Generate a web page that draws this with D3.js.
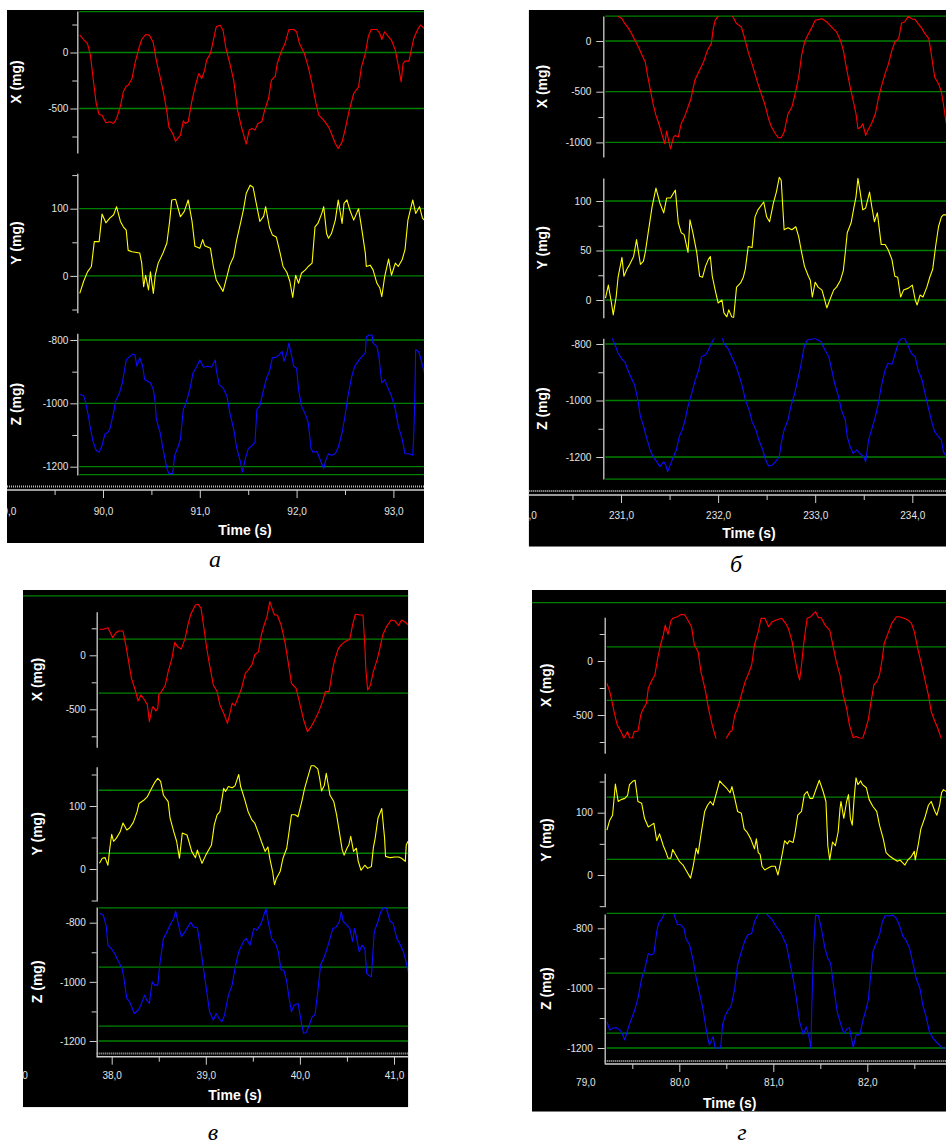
<!DOCTYPE html>
<html><head><meta charset="utf-8">
<script src="https://cdn.jsdelivr.net/npm/d3@7"></script>
<style>body{margin:0;background:#fff}svg{display:block}</style>
</head><body>
<svg id="c" width="946" height="1144"></svg>
<script>
// ---------- panel а ----------
const aTimeMajor = [89, 90, 91, 92, 93];
const aTimeMinor = [89.5, 90.5, 91.5, 92.5];
const aXTicks = [250, 0, -250, -500, -750], aXLabels = [0, -500], aXGrid = [365, 0, -500];
const aYTicks = [150, 100, 50, 0, -50], aYLabels = [100, 0], aYGrid = [100, 0];
const aZTicks = [-800, -900, -1000, -1100, -1200], aZLabels = [-800, -1000, -1200], aZGrid = [-800, -1000, -1200, -1225];
const aX = [[89.76,155],[89.80,116],[89.84,80],[89.87,-24],[89.90,-247],[89.93,-455],[89.96,-554],[89.99,-560],[90.03,-628],[90.07,-619],[90.11,-634],[90.14,-589],[90.18,-479],[90.21,-351],[90.24,-301],[90.26,-292],[90.30,-232],[90.33,-98],[90.37,36],[90.40,116],[90.44,161],[90.48,155],[90.52,86],[90.55,-68],[90.59,-217],[90.63,-381],[90.66,-530],[90.68,-664],[90.72,-723],[90.75,-792],[90.80,-738],[90.83,-610],[90.85,-634],[90.88,-619],[90.92,-426],[90.96,-277],[90.99,-187],[91.02,-232],[91.05,-158],[91.07,-68],[91.11,-9],[91.14,110],[91.17,229],[91.21,244],[91.24,199],[91.27,36],[91.31,-98],[91.35,-247],[91.39,-515],[91.43,-664],[91.48,-818],[91.51,-693],[91.54,-679],[91.57,-693],[91.60,-634],[91.64,-619],[91.67,-515],[91.71,-411],[91.74,-247],[91.78,-211],[91.80,-98],[91.84,6],[91.88,80],[91.92,205],[91.97,205],[92.00,185],[92.03,80],[92.08,-9],[92.12,-128],[92.16,-277],[92.20,-455],[92.23,-560],[92.28,-604],[92.33,-664],[92.36,-723],[92.40,-812],[92.43,-857],[92.47,-798],[92.50,-693],[92.54,-530],[92.59,-366],[92.64,-307],[92.67,-128],[92.71,-9],[92.74,140],[92.77,205],[92.83,205],[92.86,170],[92.88,116],[92.91,185],[92.95,140],[92.98,110],[93.02,21],[93.05,-113],[93.08,-262],[93.10,-98],[93.12,-77],[93.16,-77],[93.21,125],[93.25,205],[93.28,244],[93.32,214]];
const aY = [[89.76,-26],[89.80,-8],[89.84,6],[89.88,14],[89.91,51],[89.96,51],[89.99,92],[90.03,79],[90.07,86],[90.11,91],[90.14,103],[90.18,81],[90.21,73],[90.24,68],[90.26,38],[90.30,36],[90.38,34],[90.40,19],[90.42,-16],[90.44,1],[90.47,-21],[90.49,6],[90.52,-26],[90.54,1],[90.57,19],[90.62,34],[90.66,49],[90.69,83],[90.71,113],[90.75,114],[90.80,88],[90.84,96],[90.88,113],[90.92,81],[90.95,44],[91.00,41],[91.03,54],[91.05,45],[91.11,41],[91.14,14],[91.17,-6],[91.24,-23],[91.28,-1],[91.31,16],[91.35,29],[91.38,53],[91.42,78],[91.45,98],[91.48,123],[91.52,135],[91.55,132],[91.59,103],[91.62,81],[91.66,89],[91.68,103],[91.72,72],[91.75,61],[91.79,58],[91.83,34],[91.86,14],[91.90,5],[91.93,-8],[91.96,-32],[91.99,1],[92.02,-11],[92.05,4],[92.09,9],[92.12,14],[92.16,19],[92.19,73],[92.22,78],[92.26,93],[92.28,103],[92.31,63],[92.33,56],[92.36,63],[92.40,83],[92.43,113],[92.47,78],[92.49,108],[92.52,113],[92.55,98],[92.59,83],[92.64,100],[92.67,73],[92.71,34],[92.72,14],[92.76,16],[92.79,9],[92.83,-11],[92.86,-18],[92.88,-31],[92.91,-1],[92.95,25],[92.98,1],[93.02,19],[93.05,14],[93.09,24],[93.12,39],[93.15,83],[93.20,113],[93.23,93],[93.27,103],[93.30,86],[93.32,83]];
const aZ = [[89.76,-972],[89.80,-975],[89.82,-998],[89.85,-1040],[89.87,-1081],[89.90,-1123],[89.93,-1149],[89.96,-1154],[89.99,-1133],[90.02,-1097],[90.05,-1092],[90.07,-1081],[90.11,-1029],[90.13,-993],[90.17,-967],[90.20,-935],[90.24,-863],[90.27,-854],[90.31,-844],[90.33,-847],[90.35,-883],[90.38,-856],[90.41,-883],[90.43,-925],[90.46,-930],[90.49,-935],[90.52,-956],[90.54,-998],[90.55,-1050],[90.59,-1092],[90.62,-1144],[90.66,-1206],[90.68,-1222],[90.72,-1222],[90.74,-1165],[90.78,-1133],[90.80,-1112],[90.83,-1019],[90.86,-998],[90.90,-951],[90.93,-904],[90.97,-883],[91.00,-863],[91.04,-886],[91.08,-883],[91.12,-886],[91.16,-863],[91.17,-894],[91.20,-941],[91.24,-951],[91.28,-977],[91.31,-1029],[91.35,-1081],[91.38,-1139],[91.42,-1185],[91.44,-1217],[91.47,-1175],[91.50,-1144],[91.54,-1133],[91.57,-1123],[91.59,-1019],[91.62,-1008],[91.66,-956],[91.69,-920],[91.72,-899],[91.75,-856],[91.79,-854],[91.82,-847],[91.85,-836],[91.87,-867],[91.90,-841],[91.92,-810],[91.95,-852],[91.97,-883],[92.00,-889],[92.02,-956],[92.05,-1008],[92.09,-1034],[92.12,-1060],[92.15,-1144],[92.17,-1154],[92.21,-1152],[92.24,-1175],[92.28,-1206],[92.30,-1180],[92.33,-1159],[92.36,-1164],[92.40,-1159],[92.43,-1139],[92.47,-1092],[92.50,-1040],[92.53,-977],[92.57,-915],[92.60,-883],[92.64,-865],[92.67,-854],[92.71,-841],[92.72,-790],[92.75,-784],[92.78,-784],[92.79,-810],[92.83,-821],[92.85,-852],[92.88,-935],[92.91,-925],[92.95,-956],[92.98,-977],[93.02,-1019],[93.05,-1071],[93.09,-1112],[93.12,-1159],[93.16,-1159],[93.20,-1164],[93.21,-1102],[93.22,-998],[93.23,-831],[93.26,-836],[93.28,-856],[93.32,-904]];

// ---------- panel б ----------
const bTimeMajor = [230, 231, 232, 233, 234];
const bTimeMinor = [230.5, 231.5, 232.5, 233.5];
const bXTicks = [0, -250, -500, -750, -1000], bXLabels = [0, -500, -1000], bXGrid = [245, 0, -500, -1000];
const bYTicks = [100, 75, 50, 25, 0], bYLabels = [100, 50, 0], bYGrid = [100, 50, 0];
const bZTicks = [-800, -900, -1000, -1100, -1200], bZLabels = [-800, -1000, -1200], bZGrid = [-800, -1000, -1200, -1278];
const bX = [[230.84,350],[230.94,280],[230.97,243],[231.01,220],[231.04,171],[231.08,122],[231.11,72],[231.14,13],[231.18,-59],[231.21,-125],[231.25,-207],[231.27,-322],[231.30,-470],[231.33,-619],[231.36,-734],[231.39,-816],[231.42,-915],[231.45,-1013],[231.47,-888],[231.49,-980],[231.51,-1063],[231.54,-948],[231.56,-931],[231.59,-948],[231.62,-816],[231.66,-734],[231.69,-651],[231.72,-569],[231.76,-388],[231.80,-306],[231.85,-207],[231.89,-92],[231.93,-26],[231.95,122],[231.97,204],[232.00,243],[232.04,330],[232.09,330],[232.15,243],[232.19,171],[232.24,138],[232.27,39],[232.31,-109],[232.36,-257],[232.41,-421],[232.45,-536],[232.48,-619],[232.52,-767],[232.55,-849],[232.59,-915],[232.62,-954],[232.65,-954],[232.68,-898],[232.72,-717],[232.76,-651],[232.79,-536],[232.83,-355],[232.86,-141],[232.89,-10],[232.93,72],[232.96,122],[233.00,204],[233.03,211],[233.07,220],[233.12,188],[233.17,138],[233.22,89],[233.26,7],[233.29,-92],[233.32,-257],[233.36,-454],[233.39,-586],[233.42,-717],[233.44,-865],[233.47,-849],[233.49,-816],[233.52,-931],[233.55,-865],[233.58,-816],[233.62,-717],[233.65,-569],[233.68,-454],[233.72,-322],[233.75,-240],[233.79,-92],[233.82,-10],[233.86,23],[233.89,178],[233.92,188],[233.96,243],[233.99,220],[234.03,211],[234.06,171],[234.10,122],[234.13,72],[234.17,23],[234.20,-158],[234.23,-355],[234.27,-421],[234.30,-503],[234.32,-619],[234.35,-816]];
const bY = [[230.84,2],[230.87,15],[230.90,-2],[230.92,-15],[230.95,3],[230.97,23],[231.01,43],[231.03,24],[231.06,31],[231.09,36],[231.13,44],[231.16,61],[231.20,36],[231.23,39],[231.25,48],[231.28,68],[231.32,94],[231.36,113],[231.40,98],[231.44,88],[231.47,103],[231.51,103],[231.56,111],[231.59,78],[231.62,68],[231.65,66],[231.69,48],[231.71,81],[231.74,68],[231.78,48],[231.81,24],[231.84,23],[231.87,34],[231.90,41],[231.92,44],[231.94,24],[231.97,10],[232.00,-3],[232.04,0],[232.06,-13],[232.09,-17],[232.11,-10],[232.14,-17],[232.16,-18],[232.19,13],[232.23,17],[232.26,23],[232.28,31],[232.31,54],[232.35,53],[232.38,84],[232.41,91],[232.47,99],[232.50,84],[232.53,79],[232.57,98],[232.60,109],[232.63,124],[232.65,121],[232.68,71],[232.72,73],[232.76,71],[232.80,74],[232.83,64],[232.86,48],[232.89,34],[232.93,24],[232.95,20],[232.97,3],[233.00,18],[233.03,13],[233.07,10],[233.09,3],[233.12,-8],[233.15,0],[233.19,10],[233.22,13],[233.26,20],[233.29,30],[233.31,48],[233.33,68],[233.37,78],[233.40,94],[233.42,104],[233.44,123],[233.46,111],[233.49,91],[233.52,93],[233.56,109],[233.58,96],[233.61,79],[233.64,88],[233.68,56],[233.72,56],[233.75,51],[233.79,41],[233.82,24],[233.85,23],[233.88,3],[233.91,10],[233.96,12],[234.00,15],[234.03,0],[234.05,-5],[234.08,5],[234.11,3],[234.15,13],[234.18,23],[234.21,31],[234.24,54],[234.27,74],[234.30,84],[234.32,86],[234.35,86]];
const bZ = [[230.84,-740],[230.91,-780],[230.94,-804],[230.97,-833],[231.01,-854],[231.04,-863],[231.07,-892],[231.10,-916],[231.14,-945],[231.17,-992],[231.20,-1057],[231.23,-1087],[231.26,-1128],[231.30,-1175],[231.33,-1199],[231.37,-1217],[231.40,-1234],[231.44,-1217],[231.46,-1228],[231.48,-1252],[231.50,-1234],[231.54,-1199],[231.57,-1175],[231.60,-1128],[231.63,-1104],[231.66,-1069],[231.69,-1020],[231.73,-973],[231.76,-933],[231.80,-892],[231.83,-845],[231.87,-839],[231.90,-821],[231.93,-798],[231.96,-780],[232.00,-760],[232.04,-775],[232.06,-798],[232.11,-821],[232.14,-845],[232.18,-874],[232.22,-916],[232.25,-951],[232.28,-998],[232.32,-1034],[232.35,-1075],[232.39,-1104],[232.42,-1140],[232.46,-1175],[232.49,-1211],[232.52,-1232],[232.56,-1228],[232.59,-1217],[232.63,-1199],[232.65,-1152],[232.68,-1104],[232.72,-1069],[232.75,-1020],[232.79,-973],[232.82,-927],[232.85,-880],[232.89,-804],[232.92,-786],[232.96,-783],[232.99,-780],[233.03,-786],[233.06,-792],[233.10,-821],[233.14,-845],[233.17,-892],[233.20,-939],[233.24,-986],[233.27,-1034],[233.31,-1069],[233.33,-1128],[233.36,-1164],[233.39,-1187],[233.43,-1175],[233.46,-1187],[233.50,-1199],[233.52,-1217],[233.55,-1140],[233.58,-1104],[233.62,-1057],[233.65,-1010],[233.68,-951],[233.72,-892],[233.75,-868],[233.79,-872],[233.82,-839],[233.86,-792],[233.89,-780],[233.92,-780],[233.96,-809],[233.99,-833],[234.03,-845],[234.06,-892],[234.10,-927],[234.13,-973],[234.17,-1032],[234.20,-1075],[234.23,-1110],[234.27,-1128],[234.30,-1140],[234.32,-1181],[234.35,-1199]];

// ---------- panel в ----------
const vTimeMajor = [37, 38, 39, 40, 41];
const vTimeMinor = [38.5, 39.5, 40.5];
const vXTicks = [250, 0, -250, -500, -750], vXLabels = [0, -500], vXGrid = [550, 150, -350];
const vYTicks = [150, 100, 50, 0, -50], vYLabels = [100, 0], vYGrid = [125, 25];
const vZTicks = [-800, -900, -1000, -1100, -1200], vZLabels = [-800, -1000, -1200], vZGrid = [-750, -950, -1150, -1200];
const vX = [[37.87,241],[37.91,241],[37.96,256],[38.01,164],[38.04,204],[38.07,225],[38.12,225],[38.15,96],[38.18,-59],[38.21,-213],[38.25,-321],[38.28,-423],[38.31,-367],[38.35,-414],[38.38,-460],[38.40,-614],[38.43,-491],[38.44,-475],[38.47,-515],[38.49,-491],[38.50,-367],[38.53,-336],[38.57,-275],[38.60,-151],[38.64,-28],[38.67,120],[38.70,80],[38.74,59],[38.78,157],[38.81,281],[38.84,380],[38.89,466],[38.92,472],[38.95,435],[38.97,312],[39.01,65],[39.04,-89],[39.08,-275],[39.12,-336],[39.15,-460],[39.19,-537],[39.23,-630],[39.26,-522],[39.28,-444],[39.31,-466],[39.34,-398],[39.38,-306],[39.42,-167],[39.45,-136],[39.49,-89],[39.52,3],[39.56,34],[39.59,188],[39.62,281],[39.65,358],[39.68,497],[39.71,420],[39.73,373],[39.76,373],[39.80,281],[39.84,127],[39.88,-89],[39.91,-259],[39.96,-306],[39.99,-414],[40.04,-599],[40.08,-707],[40.12,-660],[40.15,-614],[40.20,-522],[40.24,-429],[40.27,-336],[40.31,-336],[40.35,-120],[40.37,-43],[40.41,65],[40.44,96],[40.48,127],[40.53,148],[40.56,281],[40.59,380],[40.64,373],[40.67,373],[40.69,96],[40.70,-120],[40.72,-321],[40.75,-275],[40.78,-151],[40.82,-43],[40.85,65],[40.88,188],[40.92,265],[40.97,327],[41.01,318],[41.05,275],[41.08,327],[41.12,306],[41.15,281]];
const vY = [[37.87,9],[37.90,17],[37.93,18],[37.96,6],[37.98,33],[38.00,55],[38.02,44],[38.05,49],[38.09,59],[38.12,73],[38.16,62],[38.19,65],[38.23,74],[38.27,91],[38.29,104],[38.34,109],[38.38,115],[38.42,127],[38.46,138],[38.49,144],[38.52,139],[38.55,117],[38.60,107],[38.62,81],[38.66,59],[38.69,44],[38.72,17],[38.75,57],[38.80,54],[38.82,44],[38.85,28],[38.89,18],[38.91,30],[38.94,17],[38.96,9],[39.00,22],[39.03,30],[39.06,38],[39.09,70],[39.12,86],[39.15,91],[39.19,128],[39.21,123],[39.24,131],[39.28,129],[39.31,132],[39.35,150],[39.37,131],[39.41,112],[39.45,91],[39.49,78],[39.52,73],[39.56,57],[39.59,44],[39.63,28],[39.66,35],[39.68,17],[39.71,-4],[39.73,-25],[39.75,-15],[39.79,-4],[39.82,17],[39.86,33],[39.88,54],[39.91,86],[39.95,86],[39.98,83],[40.02,107],[40.05,128],[40.09,149],[40.12,164],[40.15,164],[40.19,159],[40.21,144],[40.23,124],[40.26,133],[40.28,152],[40.32,117],[40.36,107],[40.39,86],[40.43,49],[40.45,30],[40.47,22],[40.50,33],[40.52,38],[40.54,52],[40.57,28],[40.60,33],[40.62,12],[40.65,-2],[40.69,6],[40.72,1],[40.76,4],[40.78,33],[40.80,49],[40.83,81],[40.87,96],[40.90,49],[40.91,20],[40.96,18],[41.01,19],[41.05,19],[41.08,17],[41.12,12],[41.13,38],[41.15,44]];
const vZ = [[37.87,-768],[37.91,-774],[37.94,-808],[37.96,-876],[38.00,-889],[38.04,-909],[38.07,-930],[38.11,-954],[38.13,-988],[38.16,-1056],[38.19,-1067],[38.24,-1107],[38.28,-1096],[38.31,-1078],[38.35,-1045],[38.37,-1061],[38.40,-1073],[38.43,-1000],[38.46,-1011],[38.49,-1011],[38.51,-943],[38.55,-853],[38.58,-836],[38.62,-808],[38.66,-785],[38.68,-761],[38.71,-808],[38.74,-847],[38.78,-830],[38.81,-814],[38.84,-799],[38.87,-814],[38.91,-817],[38.94,-876],[38.97,-943],[39.01,-1033],[39.04,-1101],[39.08,-1129],[39.11,-1107],[39.14,-1123],[39.17,-1135],[39.20,-1112],[39.24,-1045],[39.28,-1011],[39.31,-954],[39.35,-898],[39.40,-864],[39.43,-853],[39.47,-876],[39.51,-819],[39.54,-825],[39.58,-808],[39.60,-791],[39.64,-752],[39.66,-791],[39.70,-853],[39.74,-870],[39.77,-898],[39.80,-960],[39.83,-960],[39.86,-999],[39.88,-1045],[39.91,-1101],[39.94,-1078],[39.98,-1073],[39.99,-1090],[40.02,-1146],[40.04,-1174],[40.07,-1171],[40.10,-1146],[40.13,-1118],[40.16,-1112],[40.19,-1033],[40.22,-943],[40.26,-915],[40.30,-876],[40.35,-819],[40.38,-817],[40.42,-796],[40.44,-763],[40.46,-796],[40.50,-808],[40.53,-819],[40.56,-864],[40.58,-819],[40.60,-847],[40.63,-898],[40.66,-876],[40.69,-887],[40.71,-971],[40.73,-977],[40.76,-983],[40.79,-830],[40.83,-796],[40.86,-763],[40.89,-749],[40.92,-752],[40.96,-796],[40.99,-802],[41.03,-853],[41.06,-870],[41.10,-898],[41.12,-921],[41.15,-966]];

// ---------- panel г ----------
const gTimeMajor = [79, 80, 81, 82];
const gTimeMinor = [79.5, 80.5, 81.5, 82.5];
const gXTicks = [250, 0, -250, -500, -750], gXLabels = [0, -500], gXGrid = [540, 130, -365];
const gYTicks = [150, 100, 50, 0, -50], gYLabels = [100, 0], gYGrid = [125, 25];
const gZTicks = [-800, -900, -1000, -1100, -1200], gZLabels = [-800, -1000, -1200], gZGrid = [-750, -950, -1150, -1200];
const gX = [[79.23,-207],[79.26,-284],[79.28,-361],[79.31,-484],[79.34,-593],[79.38,-654],[79.41,-716],[79.45,-654],[79.47,-710],[79.50,-716],[79.52,-654],[79.56,-648],[79.59,-500],[79.61,-454],[79.65,-392],[79.67,-253],[79.71,-176],[79.74,-130],[79.77,25],[79.80,148],[79.83,241],[79.85,333],[79.88,247],[79.91,370],[79.93,395],[79.98,410],[80.02,432],[80.06,426],[80.09,380],[80.13,318],[80.16,148],[80.20,86],[80.23,-99],[80.28,-284],[80.31,-438],[80.35,-593],[80.39,-716],[80.45,-900],[80.50,-716],[80.54,-654],[80.56,-648],[80.59,-500],[80.62,-438],[80.66,-315],[80.70,-191],[80.73,-130],[80.77,-37],[80.80,148],[80.84,272],[80.87,395],[80.91,395],[80.95,318],[80.99,364],[81.03,380],[81.09,395],[81.13,349],[81.16,302],[81.20,179],[81.23,25],[81.26,-114],[81.28,-176],[81.30,-37],[81.32,133],[81.34,272],[81.36,395],[81.40,410],[81.43,441],[81.45,457],[81.48,401],[81.51,401],[81.55,333],[81.60,287],[81.63,164],[81.67,-6],[81.71,-130],[81.74,-299],[81.78,-438],[81.81,-593],[81.85,-710],[81.88,-700],[81.92,-716],[81.95,-716],[81.98,-639],[82.01,-546],[82.04,-376],[82.07,-222],[82.10,-191],[82.13,-130],[82.16,25],[82.18,164],[82.22,256],[82.26,349],[82.31,410],[82.34,410],[82.39,395],[82.43,380],[82.47,349],[82.50,272],[82.54,102],[82.57,-6],[82.61,-160],[82.65,-315],[82.68,-469],[82.72,-562],[82.75,-623],[82.78,-700],[82.80,-747],[82.84,-808]];
const gY = [[79.23,72],[79.26,88],[79.29,96],[79.32,146],[79.35,118],[79.38,121],[79.42,123],[79.45,128],[79.47,145],[79.51,151],[79.53,152],[79.56,118],[79.60,115],[79.63,91],[79.67,77],[79.70,80],[79.73,83],[79.76,55],[79.79,66],[79.83,47],[79.86,36],[79.88,27],[79.91,27],[79.93,41],[79.97,30],[80.00,22],[80.04,16],[80.07,8],[80.12,-5],[80.15,16],[80.18,43],[80.20,34],[80.23,64],[80.27,102],[80.30,112],[80.33,118],[80.36,112],[80.39,129],[80.43,151],[80.46,146],[80.50,140],[80.54,132],[80.56,142],[80.59,123],[80.62,102],[80.66,99],[80.69,74],[80.72,69],[80.76,58],[80.80,42],[80.82,58],[80.84,36],[80.86,33],[80.88,14],[80.91,8],[80.94,11],[80.98,14],[81.02,14],[81.05,0],[81.08,22],[81.10,38],[81.12,55],[81.15,50],[81.17,55],[81.21,52],[81.23,66],[81.26,96],[81.30,102],[81.33,129],[81.36,134],[81.39,123],[81.42,123],[81.46,140],[81.49,152],[81.53,134],[81.56,118],[81.58,47],[81.60,24],[81.62,43],[81.63,53],[81.66,47],[81.69,69],[81.71,107],[81.72,118],[81.75,91],[81.78,118],[81.80,129],[81.82,91],[81.84,80],[81.86,123],[81.88,156],[81.90,145],[81.93,151],[81.95,145],[81.99,140],[82.02,121],[82.06,110],[82.10,102],[82.13,80],[82.17,58],[82.20,36],[82.24,30],[82.27,27],[82.32,22],[82.35,24],[82.40,16],[82.43,24],[82.47,30],[82.50,38],[82.51,24],[82.54,47],[82.57,74],[82.61,91],[82.65,112],[82.68,118],[82.72,102],[82.74,96],[82.77,112],[82.79,132],[82.81,137],[82.84,134]];
const gZ = [[79.23,-1112],[79.26,-1140],[79.29,-1134],[79.33,-1132],[79.37,-1140],[79.39,-1151],[79.42,-1173],[79.45,-1140],[79.48,-1112],[79.52,-1079],[79.56,-1034],[79.60,-967],[79.63,-939],[79.67,-884],[79.70,-889],[79.73,-884],[79.76,-811],[79.78,-783],[79.81,-771],[79.84,-752],[79.87,-740],[79.91,-750],[79.94,-750],[79.98,-787],[80.02,-789],[80.05,-800],[80.07,-833],[80.11,-856],[80.15,-911],[80.18,-967],[80.22,-1023],[80.25,-1067],[80.29,-1145],[80.32,-1190],[80.36,-1162],[80.38,-1199],[80.42,-1201],[80.44,-1199],[80.46,-1123],[80.49,-1090],[80.52,-1073],[80.55,-1062],[80.59,-1001],[80.62,-923],[80.66,-878],[80.70,-839],[80.73,-822],[80.77,-817],[80.80,-778],[80.84,-752],[80.87,-745],[80.91,-745],[80.94,-756],[80.99,-772],[81.02,-789],[81.07,-811],[81.10,-828],[81.14,-856],[81.17,-906],[81.21,-967],[81.24,-1023],[81.28,-1112],[81.32,-1156],[81.35,-1129],[81.38,-1162],[81.40,-1201],[81.41,-1056],[81.43,-856],[81.45,-756],[81.48,-758],[81.51,-800],[81.55,-867],[81.58,-900],[81.61,-917],[81.65,-1012],[81.68,-1079],[81.72,-1123],[81.75,-1151],[81.79,-1134],[81.81,-1132],[81.85,-1199],[81.88,-1156],[81.92,-1156],[81.95,-1112],[81.99,-1067],[82.01,-1040],[82.04,-945],[82.06,-878],[82.10,-845],[82.13,-822],[82.16,-778],[82.19,-758],[82.24,-758],[82.27,-756],[82.31,-767],[82.34,-789],[82.38,-828],[82.41,-839],[82.45,-867],[82.49,-923],[82.52,-967],[82.56,-1001],[82.59,-1056],[82.63,-1101],[82.66,-1145],[82.70,-1168],[82.73,-1179],[82.77,-1190],[82.79,-1199],[82.84,-1201]];

// ---------- layout (positions / styles only) ----------
const RED = '#ff0000', YEL = '#ffff00', BLU = '#0c0cff';
const panels = [
 {caption:'а', box:[7,10,424,543], axisX:77.3, t:[90,103,96.8], timeY:490, dotY:486.5, timeStart:7, labBase:516, title:[245,535], ylabX:16, gap:9, cap:[215,567],
  major:aTimeMajor, minor:aTimeMinor,
  subs:[
   {name:'X (mg)', color:RED, data:aX, ticks:aXTicks, labels:aXLabels, grid:aXGrid, cal:[0,52.5,-500,108.5], ext:[11,153], clip:[10,153], fullTop:false},
   {name:'Y (mg)', color:YEL, data:aY, ticks:aYTicks, labels:aYLabels, grid:aYGrid, cal:[100,208.7,0,275.9], ext:[173.3,312.7], clip:[168,312.7], fullTop:false},
   {name:'Z (mg)', color:BLU, data:aZ, ticks:aZTicks, labels:aZLabels, grid:aZGrid, cal:[-800,340,-1200,466.7], ext:[333.3,475], clip:[330,475], fullTop:false}]},
 {caption:'б', box:[528.7,10,946,546.7], axisX:603.3, t:[231,621,97.1], timeY:495, dotY:491, timeStart:528.7, labBase:520, title:[749,538], ylabX:542, gap:12, cap:[736,572],
  major:bTimeMajor, minor:bTimeMinor,
  subs:[
   {name:'X (mg)', color:RED, data:bX, ticks:bXTicks, labels:bXLabels, grid:bXGrid, cal:[0,41,-500,91.7], ext:[16,157], clip:[16,157], fullTop:false},
   {name:'Y (mg)', color:YEL, data:bY, ticks:bYTicks, labels:bYLabels, grid:bYGrid, cal:[100,201,0,300], ext:[178,317.7], clip:[176,317.7], fullTop:false},
   {name:'Z (mg)', color:BLU, data:bZ, ticks:bZTicks, labels:bZLabels, grid:bZGrid, cal:[-800,344,-1200,457], ext:[338.3,479], clip:[338.3,479], fullTop:false}]},
 {caption:'в', box:[23,590,408.3,1107.3], axisX:96.7, t:[38,111.7,94.1], timeY:1056.7, dotY:1053.5, timeStart:96.7, labBase:1080, title:[235,1100], ylabX:37, gap:11, cap:[213,1140],
  major:vTimeMajor, minor:vTimeMinor,
  subs:[
   {name:'X (mg)', color:RED, data:vX, ticks:vXTicks, labels:vXLabels, grid:vXGrid, cal:[0,655.3,-500,709.3], ext:[611.7,747.3], clip:[597,747.3], fullTop:true},
   {name:'Y (mg)', color:YEL, data:vY, ticks:vYTicks, labels:vYLabels, grid:vYGrid, cal:[100,806,0,869], ext:[766.7,901], clip:[760,903], fullTop:false},
   {name:'Z (mg)', color:BLU, data:vZ, ticks:vZTicks, labels:vZLabels, grid:vZGrid, cal:[-800,922.7,-1200,1041], ext:[907,1056.7], clip:[904,1052], fullTop:false}]},
 {caption:'г', box:[532,590,946,1111.7], axisX:604.7, t:[79,585.3,94], timeY:1064, dotY:1061, timeStart:604.7, labBase:1087.5, title:[729.7,1108], ylabX:545.5, gap:12, cap:[742,1140],
  major:gTimeMajor, minor:gTimeMinor,
  subs:[
   {name:'X (mg)', color:RED, data:gX, ticks:gXTicks, labels:gXLabels, grid:gXGrid, cal:[0,661,-500,715], ext:[617.3,753.3], clip:[604,738.5], fullTop:true},
   {name:'Y (mg)', color:YEL, data:gY, ticks:gYTicks, labels:gYLabels, grid:gYGrid, cal:[100,812.7,0,875], ext:[773.3,906.7], clip:[770,906.7], fullTop:false},
   {name:'Z (mg)', color:BLU, data:gZ, ticks:gZTicks, labels:gZLabels, grid:gZGrid, cal:[-800,928.3,-1200,1048], ext:[914,1063.3], clip:[914,1059], fullTop:false}]}
];

const FONT = '"Liberation Sans", Arial, sans-serif';
const AXC = '#cfcfcf';
const fmtT = v => v.toFixed(1).replace('.', ',');
const svg = d3.select('#c');
const defs = svg.append('defs');

panels.forEach((p, pi) => {
  const [L, T, R, B] = p.box;
  const cid = 'pc' + pi;
  defs.append('clipPath').attr('id', cid).append('rect')
    .attr('x', L).attr('y', T).attr('width', R - L).attr('height', B - T);
  const g = svg.append('g').attr('clip-path', `url(#${cid})`);
  g.append('rect').attr('x', L).attr('y', T).attr('width', R - L).attr('height', B - T).attr('fill', '#000');

  const xs = d3.scaleLinear().domain([p.t[0], p.t[0] + 1]).range([p.t[1], p.t[1] + p.t[2]]);

  p.subs.forEach((s, si) => {
    const cal = d3.scaleLinear().domain([s.cal[0], s.cal[2]]).range([s.cal[1], s.cal[3]]);
    const ys = d3.scaleLinear().domain([cal.invert(s.ext[1]), cal.invert(s.ext[0])]).range([s.ext[1], s.ext[0]]);

    // green reference lines
    g.append('g').selectAll('line').data(s.grid).join('line')
      .attr('x1', (v, i) => (s.fullTop && i === 0) ? L : p.axisX + 2)
      .attr('x2', R)
      .attr('y1', v => ys(v)).attr('y2', v => ys(v))
      .attr('stroke', '#008000').attr('stroke-width', 1.3);

    // y axis
    const ax = g.append('g').attr('transform', `translate(${p.axisX},0)`)
      .attr('font-family', FONT).attr('font-size', 12)
      .call(d3.axisLeft(ys).tickValues(s.ticks).tickSize(7).tickSizeOuter(0).tickPadding(p.gap - 7)
        .tickFormat(v => s.labels.includes(v) ? String(v) : ''));
    ax.select('.domain').attr('stroke', AXC).attr('stroke-width', 1.3);
    ax.selectAll('.tick line').attr('stroke', AXC).attr('x2', v => s.labels.includes(v) ? -7 : -5);
    ax.selectAll('.tick text').attr('fill', '#e4e4e4');

    // y label
    g.append('text')
      .attr('transform', `translate(${p.ylabX},${(s.ext[0] + s.ext[1]) / 2}) rotate(-90)`)
      .attr('text-anchor', 'middle').attr('dy', '0.36em')
      .attr('font-family', FONT).attr('font-weight', 'bold').attr('font-size', 14)
      .attr('fill', '#fff').text(s.name);

    // series
    const scid = `sc${pi}_${si}`;
    defs.append('clipPath').attr('id', scid).append('rect')
      .attr('x', p.axisX + 1).attr('y', s.clip[0]).attr('width', R - p.axisX - 1).attr('height', s.clip[1] - s.clip[0]);
    g.append('path').datum(s.data).attr('clip-path', `url(#${scid})`)
      .attr('fill', 'none').attr('stroke', s.color).attr('stroke-width', 1.1).attr('stroke-linejoin', 'round')
      .attr('d', d3.line().x(d => xs(d[0])).y(d => ys(d[1])));
  });

  // time axis
  g.append('line').attr('x1', p.timeStart).attr('x2', R).attr('y1', p.dotY).attr('y2', p.dotY)
    .attr('stroke', '#b8b8b8').attr('stroke-width', 2).attr('stroke-dasharray', '1,1');
  g.append('line').attr('x1', p.timeStart).attr('x2', R).attr('y1', p.timeY).attr('y2', p.timeY)
    .attr('stroke', AXC).attr('stroke-width', 1.5);
  const tax = g.append('g').attr('transform', `translate(0,${p.timeY})`)
    .attr('font-family', FONT).attr('font-size', 12)
    .call(d3.axisBottom(xs).tickValues(p.major).tickSize(8).tickSizeOuter(0)
      .tickPadding(p.labBase - p.timeY - 8 - 8.5).tickFormat(fmtT));
  tax.select('.domain').remove();
  tax.selectAll('.tick line').attr('stroke', AXC).attr('opacity', d => xs(d) >= p.timeStart ? 1 : 0);
  tax.selectAll('.tick text').attr('fill', '#e4e4e4');
  const tmin = g.append('g').attr('transform', `translate(0,${p.timeY})`)
    .call(d3.axisBottom(xs).tickValues(p.minor).tickSize(5).tickSizeOuter(0).tickFormat(''));
  tmin.select('.domain').remove();
  tmin.selectAll('.tick line').attr('stroke', AXC).attr('opacity', d => xs(d) >= p.timeStart ? 1 : 0);

  g.append('text').attr('x', p.title[0]).attr('y', p.title[1]).attr('text-anchor', 'middle')
    .attr('font-family', FONT).attr('font-weight', 'bold').attr('font-size', 14)
    .attr('fill', '#fff').text('Time (s)');

  // caption
  svg.append('text').attr('x', p.cap[0]).attr('y', p.cap[1]).attr('text-anchor', 'middle')
    .attr('font-family', '"Liberation Serif", "Times New Roman", serif').attr('font-style', 'italic')
    .attr('font-size', 24).attr('fill', '#000').text(p.caption);
});
</script>
</body></html>
